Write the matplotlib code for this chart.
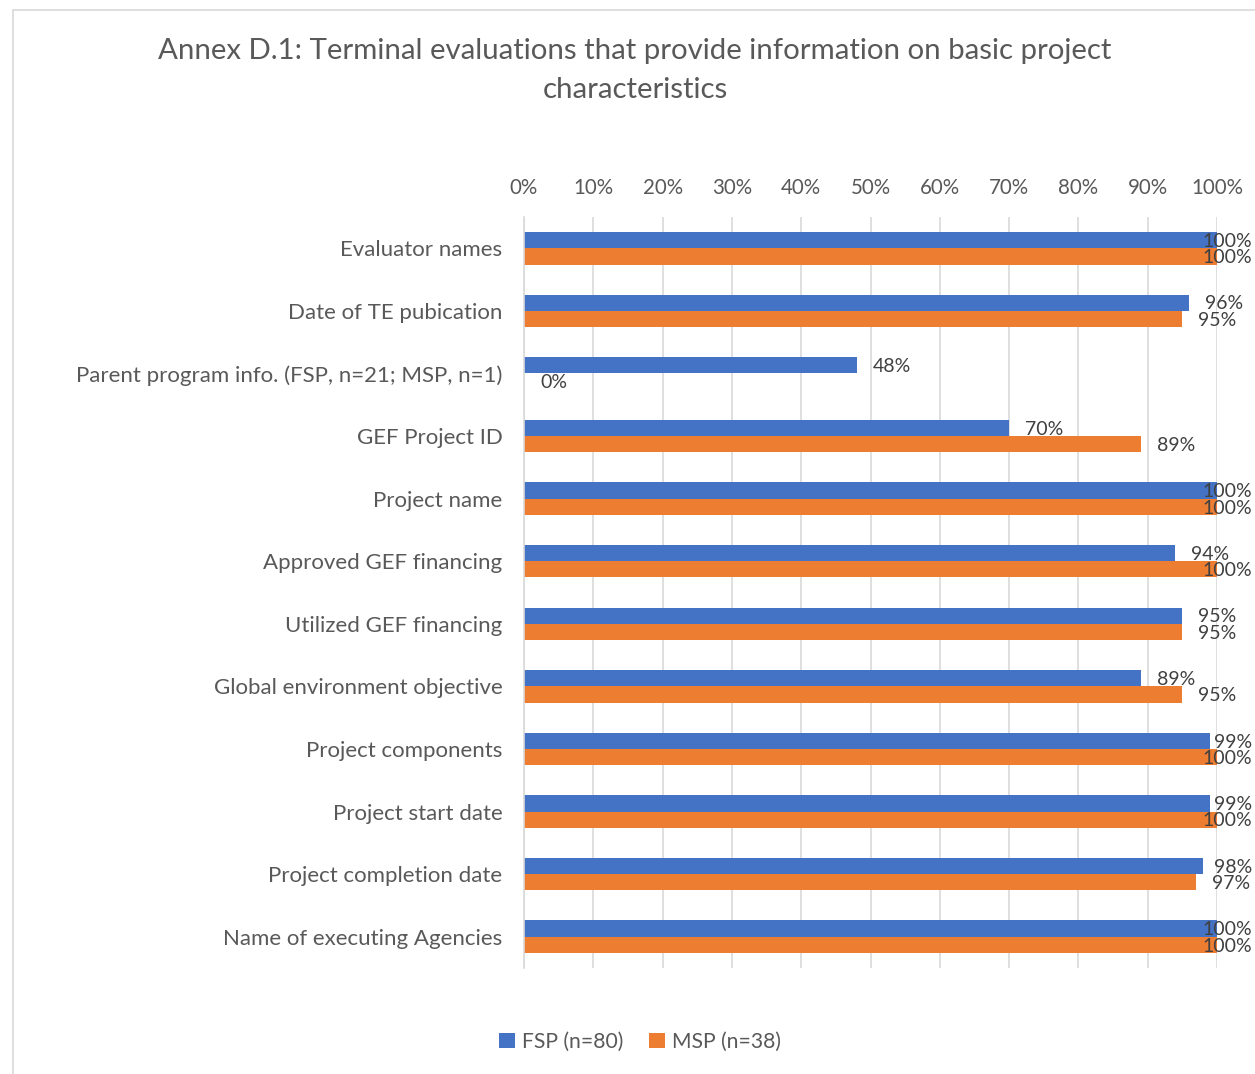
import matplotlib.pyplot as plt
from matplotlib.patches import Rectangle
import numpy as np

plt.rcParams['font.family'] = ['Lato', 'DejaVu Sans']

categories = [
    'Evaluator names',
    'Date of TE pubication',
    'Parent program info. (FSP, n=21; MSP, n=1)',
    'GEF Project ID',
    'Project name',
    'Approved GEF financing',
    'Utilized GEF financing',
    'Global environment objective',
    'Project components',
    'Project start date',
    'Project completion date',
    'Name of executing Agencies',
]
fsp = [100, 96, 48, 70, 100, 94, 95, 89, 99, 99, 98, 100]
msp = [100, 95, 0, 89, 100, 100, 95, 95, 100, 100, 97, 100]
x_ticks = [0, 10, 20, 30, 40, 50, 60, 70, 80, 90, 100]

blue = '#4472C4'
orange = '#ED7D31'
text_col = '#595959'

W, H = 1255, 1074
fig = plt.figure(figsize=(W / 100, H / 100), dpi=100)
ax = fig.add_axes([524 / W, 1 - 968 / H, (1217 - 524) / W, (968 - 217) / H])

y = np.arange(len(categories))
bh = 0.26
ax.barh(y - bh / 2, fsp, height=bh, color=blue, label='FSP (n=80)')
ax.barh(y + bh / 2, msp, height=bh, color=orange, label='MSP (n=38)')

ax.set_xlim(0, 100)
ax.set_ylim(len(categories) - 0.5, -0.5)
ax.set_yticks(y)
ax.set_yticklabels(categories, fontsize=16, color=text_col)
ax.set_xticks(x_ticks)
ax.set_xticklabels([f'{t}%' for t in x_ticks], fontsize=14.8, color=text_col)
ax.xaxis.tick_top()
ax.tick_params(axis='both', length=0, pad=14)
ax.tick_params(axis='y', pad=15.5)
ax.grid(axis='x', color='#D9D9D9', linewidth=1.2)
ax.set_axisbelow(True)
for s in ['top', 'right', 'bottom']:
    ax.spines[s].set_visible(False)
ax.spines['left'].set_color('#D9D9D9')
ax.spines['left'].set_linewidth(1.2)

# data labels: placed right of the bar, pushed back inside the chart area if needed
px_per_unit = (1217 - 524) / 100
right_limit = (1252 - 524) / px_per_unit
fig.canvas.draw()
renderer = fig.canvas.get_renderer()
for vals, off in [(fsp, -bh / 2), (msp, bh / 2)]:
    for i, v in enumerate(vals):
        t = ax.text(v + 16 / px_per_unit, i + off + 0.02, f'{v}%', fontsize=14,
                    color='#404040', ha='left', va='center')
        w = t.get_window_extent(renderer).width / px_per_unit
        if v + 16 / px_per_unit + w > right_limit:
            t.set_x(right_limit)
            t.set_ha('right')

fig.text(0.506, 1 - 51 / H, 'Annex D.1: Terminal evaluations that provide information on basic project',
         ha='center', va='center', fontsize=21.2, color=text_col)
fig.text(0.506, 1 - 90 / H, 'characteristics', ha='center', va='center', fontsize=21.2, color=text_col)

ax.legend(loc='center', bbox_to_anchor=(640 / W, 1 - 1042 / H), bbox_transform=fig.transFigure,
          ncol=2, frameon=False, fontsize=15.2, handlelength=0.75, handleheight=0.75,
          handletextpad=0.35, columnspacing=1.2, labelcolor=text_col)

fig.patches.append(Rectangle((13 / W, -0.01), 1.1, 1 - 10 / H + 0.01, transform=fig.transFigure,
                             fill=False, edgecolor='#D9D9D9', linewidth=1.2))

fig.savefig('out.png', dpi=100)
